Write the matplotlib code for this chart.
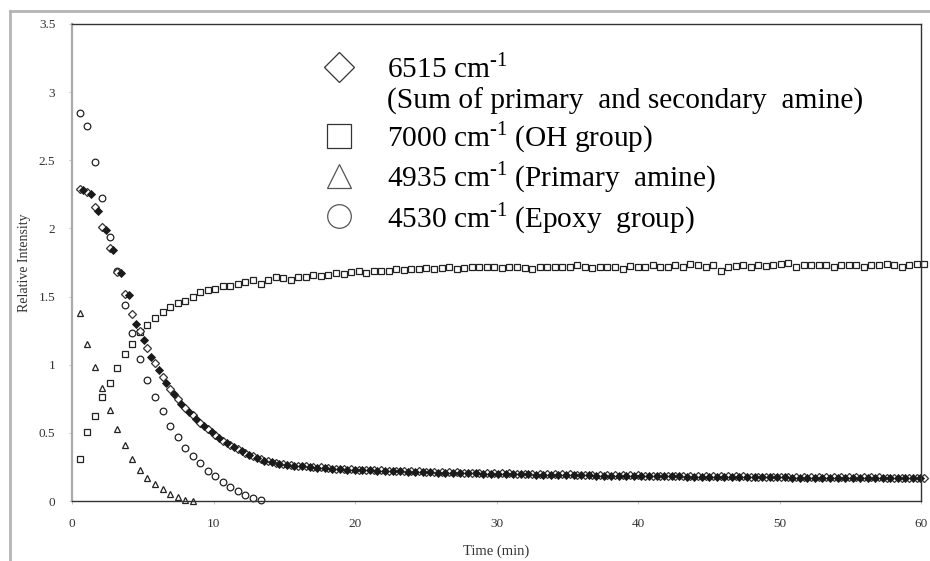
import numpy as np
import matplotlib
matplotlib.use("Agg")
import matplotlib.pyplot as plt
from matplotlib.lines import Line2D

# ---------------- data ----------------
sample_interval = 0.533   # minutes between spectra
half_offset = 0.267       # second diamond set, offset in time

oh_7000 = [0.31, 0.505, 0.625, 0.76, 0.866, 0.975, 1.08, 1.15, 1.24, 1.295,
           1.345, 1.385, 1.42, 1.455, 1.47, 1.50, 1.53, 1.545, 1.555, 1.575,
           1.58, 1.59, 1.61, 1.625, 1.59, 1.625, 1.64, 1.635, 1.62, 1.64,
           1.64, 1.655, 1.65, 1.66, 1.67, 1.665, 1.68, 1.69, 1.67, 1.685,
           1.69, 1.69, 1.70, 1.695, 1.70, 1.70, 1.71, 1.70, 1.71, 1.715,
           1.70, 1.71, 1.72, 1.715, 1.72, 1.72, 1.71, 1.72, 1.72, 1.71,
           1.70, 1.715, 1.72, 1.72, 1.715, 1.72, 1.73, 1.72, 1.71, 1.72,
           1.72, 1.715, 1.70, 1.725, 1.72, 1.715, 1.73, 1.72, 1.715, 1.73,
           1.72, 1.74, 1.735, 1.72, 1.73, 1.69, 1.72, 1.725, 1.73, 1.72,
           1.73, 1.725, 1.73, 1.74, 1.75, 1.715, 1.73, 1.73, 1.735, 1.73,
           1.72, 1.73, 1.735, 1.73, 1.72, 1.735, 1.735, 1.74, 1.73, 1.72,
           1.735, 1.74, 1.74]

amine_6515_a = [2.29, 2.27, 2.16, 2.01, 1.86, 1.68, 1.52, 1.375, 1.245, 1.12,
                1.01, 0.91, 0.825, 0.75, 0.686, 0.63, 0.573, 0.527, 0.483, 0.44,
                0.41, 0.38, 0.355, 0.33, 0.305, 0.29, 0.28, 0.27, 0.265, 0.26,
                0.255, 0.25, 0.246, 0.242, 0.238, 0.236, 0.233, 0.231, 0.229, 0.227,
                0.225, 0.223, 0.222, 0.22, 0.219, 0.217, 0.216, 0.214, 0.213, 0.212,
                0.21, 0.209, 0.208, 0.206, 0.205, 0.204, 0.203, 0.202, 0.201, 0.2,
                0.199, 0.198, 0.197, 0.196, 0.196, 0.195, 0.194, 0.193, 0.192, 0.192,
                0.191, 0.19, 0.189, 0.189, 0.188, 0.187, 0.187, 0.186, 0.185, 0.185,
                0.184, 0.184, 0.183, 0.182, 0.182, 0.181, 0.181, 0.18, 0.18, 0.179,
                0.179, 0.178, 0.178, 0.178, 0.177, 0.177, 0.176, 0.176, 0.175, 0.175,
                0.175, 0.174, 0.174, 0.174, 0.173, 0.173, 0.173, 0.172, 0.172, 0.172,
                0.171, 0.171, 0.171]

amine_6515_b = [2.28, 2.25, 2.13, 1.99, 1.84, 1.67, 1.51, 1.30, 1.18, 1.06,
                0.96, 0.865, 0.785, 0.715, 0.655, 0.60, 0.548, 0.503, 0.46, 0.423,
                0.393, 0.366, 0.34, 0.316, 0.296, 0.283, 0.273, 0.266, 0.26, 0.255,
                0.25, 0.245, 0.24, 0.236, 0.233, 0.23, 0.228, 0.226, 0.224, 0.222,
                0.22, 0.218, 0.217, 0.215, 0.214, 0.212, 0.211, 0.209, 0.208, 0.207,
                0.205, 0.204, 0.203, 0.201, 0.2, 0.199, 0.198, 0.197, 0.196, 0.195,
                0.194, 0.193, 0.192, 0.191, 0.191, 0.19, 0.189, 0.188, 0.187, 0.187,
                0.186, 0.185, 0.184, 0.184, 0.183, 0.182, 0.182, 0.181, 0.18, 0.18,
                0.179, 0.179, 0.178, 0.177, 0.177, 0.176, 0.176, 0.175, 0.175, 0.174,
                0.174, 0.173, 0.173, 0.173, 0.172, 0.172, 0.171, 0.171, 0.17, 0.17,
                0.17, 0.169, 0.169, 0.169, 0.168, 0.168, 0.168, 0.167, 0.167, 0.167,
                0.166, 0.166]

primary_4935 = [1.38, 1.15, 0.98, 0.83, 0.67, 0.53, 0.41, 0.31, 0.23, 0.166,
                0.125, 0.085, 0.055, 0.03, 0.01, 0.0]

epoxy_4530 = [2.85, 2.75, 2.49, 2.22, 1.935, 1.69, 1.435, 1.23, 1.045, 0.89,
              0.764, 0.66, 0.55, 0.47, 0.39, 0.33, 0.276, 0.22, 0.18, 0.14,
              0.10, 0.07, 0.045, 0.025, 0.008]

legend_labels = [r"6515 cm$^{\text{-1}}$",
                 "(Sum of primary  and secondary  amine)",
                 r"7000 cm$^{\text{-1}}$ (OH group)",
                 r"4935 cm$^{\text{-1}}$ (Primary  amine)",
                 r"4530 cm$^{\text{-1}}$ (Epoxy  group)"]

x_ticks = [0, 10, 20, 30, 40, 50, 60]
y_ticks = [0, 0.5, 1, 1.5, 2, 2.5, 3, 3.5]
y_tick_labels = ["0", "0.5", "1", "1.5", "2", "2.5", "3", "3.5"]

# ---------------- figure ----------------
plt.rcParams['font.family'] = ['Liberation Serif', 'DejaVu Serif']
plt.rcParams['mathtext.fontset'] = 'custom'
plt.rcParams['mathtext.rm'] = 'Liberation Serif'

W, H = 930, 561
fig = plt.figure(figsize=(W / 100, H / 100), dpi=100)
ax = fig.add_axes([72 / W, 1 - 501 / H, (921 - 72) / W, (501 - 24) / H])

def times(n, offset=0.0):
    return sample_interval * (np.arange(n) + 1) + offset

common = dict(linestyle='none', clip_on=False)
ax.plot(times(len(oh_7000)), oh_7000, marker='s', ms=5.0, mfc='white',
        mec='#222222', mew=0.9, **common)
ax.plot(times(len(primary_4935)), primary_4935, marker='^', ms=4.8, mfc='white',
        mec='#222222', mew=0.9, **common)
ax.plot(times(len(epoxy_4530)), epoxy_4530, marker='o', ms=4.8, mfc='white',
        mec='#222222', mew=0.9, **common)
ax.plot(times(len(amine_6515_a)), amine_6515_a, marker='D', ms=4.0, mfc='white',
        mec='#333333', mew=0.9, **common)
ax.plot(times(len(amine_6515_b), half_offset), amine_6515_b, marker='D', ms=3.6,
        mfc='#1a1a1a', mec='#1a1a1a', mew=0.6, **common)

ax.set_xlim(0, 60)
ax.set_ylim(0, 3.5)
ax.set_xticks(x_ticks)
ax.set_yticks(y_ticks)
ax.set_yticklabels(y_tick_labels)
ax.tick_params(axis='both', direction='out', length=2.5, width=0.6,
               colors='#bbbbbb', labelcolor='#333333', labelsize=9.5, pad=9.5)

for side in ['top', 'right', 'bottom']:
    ax.spines[side].set_color('#333333')
    ax.spines[side].set_linewidth(1.0)
ax.spines['left'].set_color('#aaaaaa')
ax.spines['left'].set_linewidth(1.6)

ax.set_xlabel("Time (min)", fontsize=10.5, color='#333333', va='top')
ax.xaxis.set_label_coords(0.5, (501 - 545) / 477)
ax.set_ylabel("Relative Intensity", fontsize=10, color='#333333')
ax.yaxis.set_label_coords((31 - 72) / 849, 0.5)

# legend
handles = [
    Line2D([], [], linestyle='none', marker='D', ms=15, mfc='white', mec='#333333', mew=0.9),
    Line2D([], [], linestyle='none', marker='None'),
    Line2D([], [], linestyle='none', marker='s', ms=17, mfc='white', mec='#333333', mew=0.9),
    Line2D([], [], linestyle='none', marker='^', ms=17, mfc='white', mec='#555555', mew=0.9),
    Line2D([], [], linestyle='none', marker='o', ms=17, mfc='white', mec='#555555', mew=0.9),
]
ax.legend(handles, legend_labels, loc='upper left',
          bbox_to_anchor=(324 / W, 1 - 53 / H), bbox_transform=fig.transFigure,
          frameon=False, fontsize=21.2, handlelength=1.0, handletextpad=1.15,
          labelspacing=0.16, borderpad=0, borderaxespad=0)

# outer frame of the pasted picture
fig.add_artist(Line2D([10 / W, 10 / W], [0, 1 - 11 / H], transform=fig.transFigure,
                      color='#b5b5b5', lw=2.0))
fig.add_artist(Line2D([10 / W, 1], [1 - 11 / H, 1 - 11 / H], transform=fig.transFigure,
                      color='#b5b5b5', lw=2.0))

fig.savefig("out.png", dpi=100)
